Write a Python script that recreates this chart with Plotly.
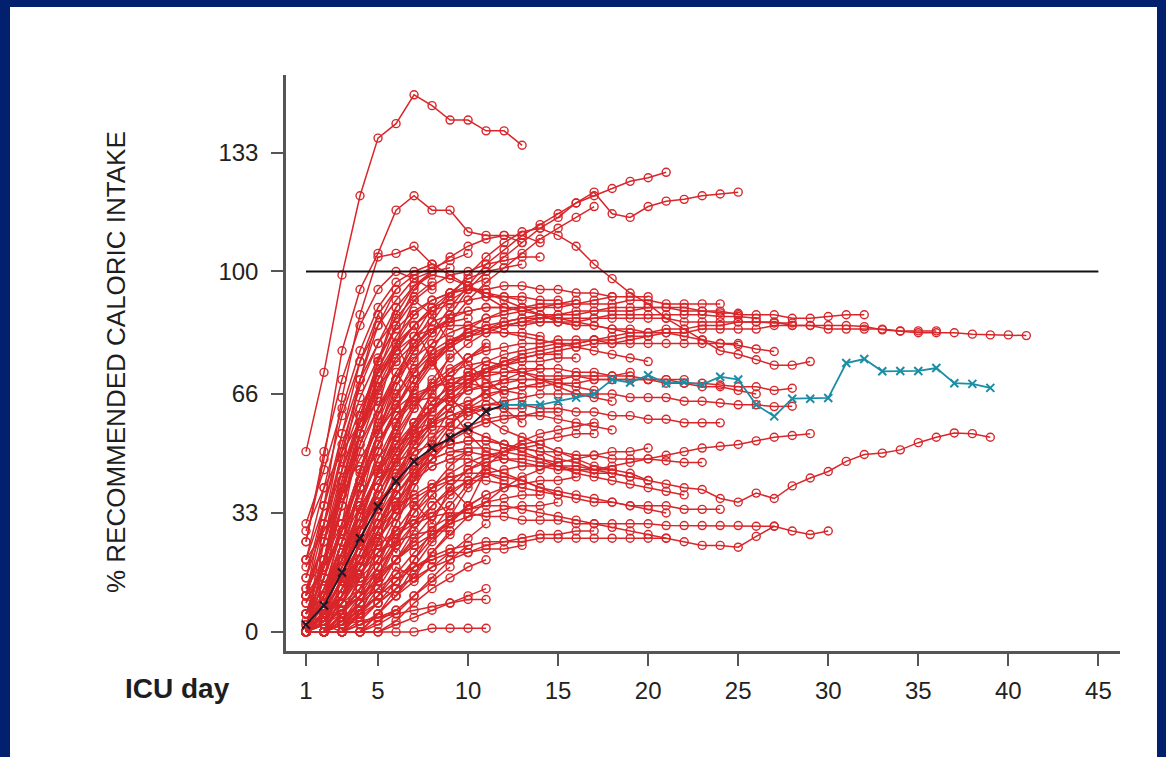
import plotly.graph_objects as go

# ---------------- data ----------------
x_ticks = [1, 5, 10, 15, 20, 25, 30, 35, 40, 45]
y_ticks = [0, 33, 66, 100, 133]
ref_x = [1, 45]
ref_y = [100, 100]

# mean curve (black part days 1-12, teal part days 12-39)
mean_early_days = list(range(1, 13))
mean_early = [2, 7.3, 16.5, 26, 34.8, 41.8, 47.3, 51, 53.8, 56.6, 61.2, 63]
mean_late_days = list(range(12, 40))
mean_late = [63, 63, 63, 64, 65, 66, 70, 69.2, 71.2, 69, 69.3, 68.6, 70.8, 70,
             63, 59.8, 64.7, 64.7, 64.9, 74.6, 75.7, 72.3, 72.4, 72.4, 73.2,
             69, 68.8, 67.7]

# individual patients, value on ICU day 1, 2, 3, ...
p01 = [50, 72, 99, 121, 137, 141, 149, 146, 142, 142, 139, 139, 135]
p02 = [25, 48, 78, 95, 105, 117, 121, 117, 117, 111, 110, 110, 108]
p03 = [0, 3, 12, 25, 40, 55, 68, 78, 86, 92, 97, 101, 105, 109, 112, 115, 118]
p04 = [10, 35, 65, 88, 104, 105, 107, 102, 99, 96, 93, 90]
p05 = [0, 10, 25, 40, 55, 65, 75, 83, 90, 96, 102, 106, 110, 113, 116, 119, 121, 123, 125, 126, 127.5]
p06 = [0, 5, 18, 35, 50, 62, 72, 80, 88, 95, 100, 104, 108, 112, 115, 119, 122, 116, 115, 118, 119.5, 120, 121, 121.5, 122]
p07 = [0, 8, 22, 40, 55, 68, 78, 86, 93, 99, 104, 108, 111, 112, 110, 107, 102, 98, 94, 91, 87, 84, 81, 78, 77, 75.5, 74, 74, 75]
p08 = [0, 5, 15, 28, 40, 50, 58, 64, 68, 72, 75, 77, 78, 79, 80, 80, 81, 81, 82, 82, 83, 83, 84, 84, 84, 84, 85, 85, 85, 85, 85, 84.7, 83.8, 83.4, 83, 83, 83, 82.6, 82.4, 82.4, 82.2]
p09 = [0, 10, 25, 40, 52, 62, 70, 76, 80, 83, 85, 86, 87, 87, 88, 88, 89, 89, 89, 90, 90, 90, 89, 89, 88, 88, 88, 87, 87, 87.5, 88, 88]
p10 = [0, 0, 5, 15, 28, 40, 50, 58, 64, 69, 72, 75, 77, 78, 79, 80, 81, 82, 83, 83, 84, 84, 85, 85, 86, 86, 86, 85, 85, 84, 84, 84, 84, 83.5, 83.5, 83.5]
p11 = [0, 10, 25, 40, 52, 60, 64, 65, 64, 62, 59, 56, 54, 52, 50, 48, 46, 45, 44, 42, 41, 40, 39.5, 37, 36, 38.5, 37, 40.5, 42.7, 44.5, 47.3, 49.2, 49.6, 50.5, 52.5, 54, 55.2, 55, 54]
p12 = [0, 0, 3, 8, 14, 20, 25, 29, 32, 34, 35, 35, 34, 33, 32, 31, 30, 29, 28, 27, 26, 25, 24, 24, 23.5, 26.5, 29.3, 28, 27, 28]
p13 = [0, 5, 10, 16, 22, 27, 30, 32, 33, 33, 32, 32, 31, 31, 31, 30, 30, 30, 30, 30, 29.5, 29.5, 29.5, 29.5, 29.5, 29.3, 29.3]
p14 = [0, 3, 10, 20, 30, 38, 44, 48, 50, 50, 49, 48, 47, 46, 45, 45, 45, 46, 47, 48, 49, 50, 51, 51.5, 52, 53, 54, 54.5, 55]
p15 = [0, 8, 18, 28, 36, 42, 47, 50, 52, 53, 53, 52, 51, 50, 50, 49, 49, 48, 48, 48, 47.5, 47, 47]
p16 = [0, 5, 15, 28, 40, 50, 57, 62, 66, 69, 71, 72, 73, 73, 73, 72, 72, 71, 71, 70, 70, 69, 69, 68.5, 68, 68, 67, 67.6]
p17 = [0, 0, 8, 18, 30, 40, 48, 54, 58, 61, 63, 64, 65, 66, 66, 66, 66, 66, 65, 65, 65, 64, 64, 63.5, 63, 63, 62.5, 62.6]
p18 = [0, 10, 25, 40, 52, 62, 70, 75, 79, 82, 84, 85, 86, 86, 86, 85, 85, 84, 84, 83, 83, 82, 81, 80, 79.5, 78.5, 77.8]
p19 = [5, 20, 40, 55, 67, 76, 82, 86, 88, 89, 90, 90, 90, 90, 91, 91, 91, 91, 92, 92, 91, 91, 91, 91]
p20 = [0, 5, 15, 30, 45, 57, 67, 74, 79, 82, 84, 86, 87, 88, 88, 89, 89, 90, 90, 90, 90, 89, 89, 88.5, 88.4]
p21 = [0, 0, 10, 25, 40, 52, 62, 70, 76, 80, 83, 85, 86, 87, 87, 87, 87, 88, 88, 88, 88, 88, 88, 87.5, 87.5, 87]
p22 = [0, 15, 30, 45, 57, 66, 73, 78, 81, 83, 84, 85, 85, 86, 86, 86, 87, 87, 87, 87, 87, 86, 86, 86, 86, 86, 85.7, 85.7]
p23 = [10, 30, 50, 65, 76, 84, 89, 92, 94, 95, 95, 96, 96, 95, 95, 94, 94, 93, 93, 93]
p24 = [0, 5, 15, 30, 44, 55, 63, 69, 73, 76, 78, 79, 80, 80, 81, 81, 81, 80, 80, 80, 80, 80, 80, 80, 80]
p25 = [0, 10, 22, 34, 44, 51, 55, 57, 57, 56, 54, 52, 50, 48, 46, 44, 43, 42, 41, 40, 39, 38]
p26 = [0, 3, 10, 22, 34, 44, 52, 57, 60, 62, 63, 63, 63, 62, 62, 61, 61, 60, 60, 59, 59, 58, 58, 58]
p27 = [0, 8, 20, 35, 48, 58, 64, 68, 70, 71, 72, 72, 72, 71, 71, 71, 70, 70, 70, 70, 70, 70]
p28 = [0, 5, 14, 25, 36, 46, 53, 58, 62, 64, 66, 67, 68, 68, 69, 69, 70, 70, 70, 70, 69, 69, 68, 68, 67, 66]
p29 = [0, 0, 2, 6, 10, 14, 18, 21, 23, 24, 25, 25, 25, 26, 26, 26, 26, 26, 26, 26, 26]
p30 = [0, 4, 10, 18, 26, 32, 37, 40, 42, 42, 42, 41, 40, 39, 38, 37, 36, 36, 35, 35, 35, 34, 34, 34]
p31 = [0, 5, 15, 28, 40, 50, 58, 64, 68, 71, 73, 74, 75, 75, 76, 76]
p32 = [0, 0, 5, 15, 25, 35, 45, 52, 58, 62, 65, 67, 68, 69]
p33 = [10, 25, 40, 52, 62, 70, 76, 80, 83, 85, 87, 88, 89, 90, 90, 91, 92, 93]
p34 = [0, 0, 0, 5, 12, 20, 28, 35, 40, 45, 48, 50, 52, 53, 54, 55, 55]
p35 = [0, 2, 5, 10, 15, 20, 24, 27, 30, 32, 33, 34, 35, 35, 36]
p36 = [0, 0, 3, 6, 10, 14, 18, 20, 22, 22, 23, 23, 24]
p37 = [5, 20, 40, 60, 75, 85, 92, 96, 99, 100, 102, 103, 104, 104]
p38 = [0, 0, 0, 0, 5, 10, 16, 22, 27, 32, 36, 40, 43, 45, 47, 48, 49, 50, 50, 51]
p39 = [0, 10, 22, 34, 44, 52, 58, 62, 65, 67, 68, 69, 70, 70, 70, 71, 71, 71, 72]
p40 = [0, 3, 10, 20, 30, 38, 45, 50, 54, 57, 59, 60, 60, 61, 61]
p41 = [20, 35, 52, 68, 80, 90, 96, 99, 98, 96, 94, 92, 90, 88, 86, 85]
p42 = [0, 0, 8, 18, 28, 36, 42, 46, 48, 48, 46, 44, 42, 40, 38]
p43 = [0, 5, 12, 20, 28, 34, 38, 41, 43, 44, 44, 43, 42, 40, 39, 38, 37, 36, 35, 34, 33]
p44 = [0, 15, 35, 55, 72, 85, 95, 100, 104, 107, 109, 110, 110, 108]
p45 = [0, 0, 2, 5, 8, 12, 15, 18, 20, 22, 24, 25, 26, 27, 27, 28, 28]
p46 = [5, 10, 18, 28, 38, 48, 56, 62, 67, 70, 72, 74, 76, 77, 78, 79, 80, 80, 81, 82]
p47 = [0, 0, 5, 12, 22, 32, 42, 50, 57, 63, 67, 70, 72, 73]
p48 = [0, 8, 20, 32, 44, 54, 62, 68, 72, 74, 75, 74, 72, 70, 68, 66, 65, 64]
p49 = [0, 0, 0, 2, 5, 10, 18, 25, 30, 35, 38]
p50 = [0, 0, 0, 0, 0, 0, 0, 1, 1, 1, 1]
p51 = [0, 0, 2, 3, 4, 5, 6, 7, 8, 9, 9]
p52 = [5, 15, 30, 45, 60, 70, 78, 83, 87]
p53 = [0, 10, 25, 40, 52, 60, 65, 68]
p54 = [0, 5, 15, 28, 40, 50, 58]
p55 = [2, 8, 20, 35, 48, 55]
p56 = [0, 0, 5, 12, 20, 30, 40, 48, 55, 60]
p57 = [10, 25, 45, 60, 72, 80, 85, 90, 92, 95]
p58 = [0, 20, 40, 55, 70, 80, 88]
p59 = [15, 35, 55, 70, 80, 87, 93, 97]
p60 = [0, 0, 10, 22, 35, 48, 58, 66, 72, 76, 79]
p61 = [0, 3, 8, 15, 25, 35, 43, 50]
p62 = [0, 0, 0, 5, 15, 25, 35]
p63 = [5, 12, 22, 30, 36, 40]
p64 = [0, 15, 30, 42, 50]
p65 = [20, 40, 60, 75, 85, 92, 98, 100, 101]
p66 = [0, 5, 12, 18, 22, 25, 27, 28, 28]
p67 = [0, 0, 3, 8, 12, 16, 18, 20]
p68 = [30, 45, 62, 78, 90, 97, 100, 102]
p69 = [0, 25, 50, 70, 85, 95]
p70 = [0, 10, 20, 32, 45, 58, 68, 75, 80, 83]
p71 = [12, 20, 30, 42, 55, 63, 70]
p72 = [0, 2, 6, 10, 14, 20, 26, 32, 38, 42]
p73 = [8, 18, 28, 38, 46, 52, 56, 58]
p74 = [0, 30, 55, 75, 88, 95, 99, 101, 103, 105]
p75 = [0, 0, 0, 0, 2, 5, 10, 15, 20, 24]
p76 = [3, 6, 10, 15, 20]
p77 = [0, 12, 25, 35, 42, 47, 50, 52, 53]
p78 = [18, 30, 45, 58, 68, 75]
p79 = [0, 0, 5, 15, 28, 40, 52, 62, 70, 76, 80]
p80 = [25, 50, 70, 85, 95, 100, 98, 95]
p81 = [0, 5, 10, 18, 28, 36, 42, 46, 48, 50]
p82 = [0, 0, 2, 4, 8, 12, 15]
p83 = [10, 18, 35, 52, 66, 75, 80, 84, 86, 87]
p84 = [0, 0, 0, 8, 18, 30, 42, 53, 62, 68, 73]
p85 = [28, 40, 50, 58, 64]
p86 = [0, 8, 18, 30, 40]
p87 = [5, 20, 38, 55, 68, 78, 85, 90, 94, 96, 98]
p88 = [0, 0, 0, 0, 0, 3, 8, 12, 15, 18, 20]
p89 = [0, 5, 15, 30, 45, 58, 68, 75, 80, 84, 87, 89, 90, 91, 91, 92]
p90 = [0, 0, 5, 12, 20, 28, 35, 40, 44, 47, 49, 50, 51, 52]
p91 = [8, 20, 35, 50, 62, 72, 79, 84, 87, 89, 90, 90, 89, 88, 87, 86, 85, 84, 83]
p92 = [0, 10, 20, 30, 40, 48, 54, 58, 60, 61, 62, 62, 62]
p93 = [0, 0, 0, 3, 8, 14, 20, 26, 31, 35, 38, 40, 41, 42, 42, 43]
p94 = [15, 30, 48, 62, 72, 78, 82, 84, 85, 85, 84, 83, 82, 81, 80, 79, 78, 77, 76, 75]
p95 = [0, 3, 8, 16, 25, 34, 42, 48, 53, 56, 58, 59, 60, 60, 59, 58, 57, 56]
p96 = [0, 20, 42, 60, 73, 82, 88, 92, 94, 95, 94, 93, 92]
p97 = [0, 0, 10, 20, 30, 38, 44, 48, 50, 51, 51, 50, 49, 48, 47]
p98 = [5, 15, 28, 42, 55, 65, 72, 77, 80, 82, 83, 83, 83, 82]
p99 = [0, 0, 0, 0, 5, 12, 20, 28, 35, 41, 46, 50, 53, 55, 56, 57, 58]
p100 = [0, 5, 12, 22, 32, 40, 46, 50, 52, 53, 53, 52, 51, 50, 48, 47, 45, 44, 43, 42]
p101 = [10, 25, 42, 58, 70, 79, 85, 89, 91, 92, 93, 93, 93, 92, 92]
p102 = [0, 0, 3, 10, 18, 26, 33, 38, 42, 45, 47, 48, 48, 47, 46, 45, 44, 44, 43]
p103 = [0, 8, 18, 28, 38, 47, 55, 61, 66, 70, 73, 75, 76, 77, 77]
p104 = [20, 28, 38, 48, 56, 62, 66, 68, 69, 69, 68, 67, 66]
p105 = [0, 0, 0, 5, 10, 16, 22, 27, 31, 34, 36, 37, 38, 38]
p106 = [0, 12, 28, 44, 58, 70, 80, 88, 94, 98, 100, 101, 102]
p107 = [0, 2, 6, 12, 18, 24, 30, 35, 39, 42, 44, 45, 46, 46, 46, 46, 45, 45]
p108 = [0, 0, 8, 20, 32, 43, 52, 59, 64, 67, 69, 70, 70, 70, 69, 68, 67]
p109 = [0, 0, 0, 0, 3, 6]
p110 = [0, 8, 16, 24, 30, 35, 38]
p111 = [0, 3, 6, 10, 14]
p112 = [12, 25, 40, 55, 65]
p113 = [0, 0, 15, 35, 55, 70, 82, 90]
p114 = [0, 10, 30, 55, 75, 90]
p115 = [0, 0, 0, 10, 25, 40, 55, 67, 77]
p116 = [2, 5, 8, 12, 16, 20, 24]
p117 = [0, 18, 38, 58, 75, 88, 96, 100]
p118 = [0, 0, 2, 8, 16, 25, 33, 40, 46, 50]
p119 = [0, 6, 14, 24, 34, 43, 50, 56]
p120 = [5, 10, 15, 20, 24, 28, 31, 33, 35]
p121 = [0, 0, 0, 0, 0, 2, 4, 6, 8, 10, 12]
p122 = [0, 0, 0, 2, 4, 6, 10, 14, 18]
p123 = [0, 0, 4, 8, 12, 10, 14, 18, 22, 26, 30]
p124 = [0, 2, 0, 5, 10, 18, 15, 22, 28]
p125 = [0, 10, 25, 45, 60, 72, 65, 58, 62, 55, 50, 48]
p126 = [0, 15, 35, 55, 70, 78, 85, 75, 68, 72, 66, 62, 58]
p127 = [0, 5, 20, 40, 62, 80, 92, 88, 80, 74, 70, 66]
p128 = [0, 0, 0, 6, 14, 24, 36, 30, 40, 35, 45]
p129 = [0, 5, 8, 20, 28, 22, 30, 38, 32, 40, 44, 42]
p130 = [0, 20, 45, 70, 88, 80, 70, 75, 65, 60, 62]

patients = [p01, p02, p03, p04, p05, p06, p07, p08, p09, p10, p11, p12, p13, p14,
            p15, p16, p17, p18, p19, p20, p21, p22, p23, p24, p25, p26, p27, p28,
            p29, p30, p31, p32, p33, p34, p35, p36, p37, p38, p39, p40, p41, p42,
            p43, p44, p45, p46, p47, p48, p49, p50, p51, p52, p53, p54, p55, p56,
            p57, p58, p59, p60, p61, p62, p63, p64, p65, p66, p67, p68, p69, p70,
            p71, p72, p73, p74, p75, p76, p77, p78, p79, p80, p81, p82, p83, p84,
            p85, p86, p87, p88, p89, p90, p91, p92, p93, p94, p95, p96, p97, p98,
            p99, p100, p101, p102, p103, p104, p105, p106, p107, p108, p109, p110,
            p111, p112, p113, p114, p115, p116, p117, p118, p119, p120, p121, p122,
            p123, p124, p125, p126, p127, p128, p129, p130]

# ---------------- style ----------------
RED = "#d8262a"
TEAL = "#1b8ea6"
NAVY = "#02206e"
AXIS = "#555555"
FONT = "Liberation Sans, Arial, sans-serif"

W, H = 1166, 757
L, R, T, B = 286, 46, 75, 106
pw, ph = W - L - R, H - T - B

fig = go.Figure()

for vals in patients:
    fig.add_trace(go.Scatter(
        x=list(range(1, len(vals) + 1)), y=vals, mode="lines+markers",
        line=dict(color=RED, width=1.5),
        marker=dict(symbol="circle-open", size=8, color=RED, line=dict(width=1.4)),
        hoverinfo="skip", showlegend=False))

fig.add_trace(go.Scatter(x=ref_x, y=ref_y, mode="lines",
                         line=dict(color="#111111", width=2),
                         hoverinfo="skip", showlegend=False))

fig.add_trace(go.Scatter(x=mean_early_days, y=mean_early, mode="lines+markers",
                         line=dict(color="#1a1a2a", width=1.8),
                         marker=dict(symbol="x-thin-open", size=8, color="#1a1a2a",
                                     line=dict(width=2, color="#1a1a2a")),
                         hoverinfo="skip", showlegend=False))
fig.add_trace(go.Scatter(x=mean_late_days, y=mean_late, mode="lines+markers",
                         line=dict(color=TEAL, width=1.8),
                         marker=dict(symbol="x-thin-open", size=8, color=TEAL,
                                     line=dict(width=2, color=TEAL)),
                         hoverinfo="skip", showlegend=False))

# white panel inside the navy frame
fig.add_shape(type="rect", xref="paper", yref="paper", layer="below",
              x0=(10 - L) / pw, x1=(1157 - L) / pw,
              y0=(H - B - 760) / ph, y1=(H - B - 7) / ph,
              fillcolor="white", line=dict(width=0))

fig.add_annotation(text="% RECOMMENDED CALORIC INTAKE", textangle=-90,
                   xref="paper", yref="paper",
                   x=(116 - L) / pw, y=(H - B - 362) / ph,
                   xanchor="center", yanchor="middle", showarrow=False,
                   font=dict(family=FONT, size=26, color="#1e1e1e"))
fig.add_annotation(text="<b>ICU day</b>", xref="paper", yref="paper",
                   x=(177.5 - L) / pw, y=(H - B - 688) / ph,
                   xanchor="center", yanchor="middle", showarrow=False,
                   font=dict(family=FONT, size=28, color="#1e1e1e"))

fig.update_layout(
    width=W, height=H, margin=dict(l=L, r=R, t=T, b=B),
    paper_bgcolor=NAVY, plot_bgcolor="rgba(0,0,0,0)",
    font=dict(family=FONT, color="#222222"),
    xaxis=dict(range=[-0.11, 46.2], tickvals=x_ticks, ticks="outside",
               ticklen=12, tickwidth=1.5, tickcolor=AXIS, showline=True,
               linecolor=AXIS, linewidth=2.5, showgrid=False, zeroline=False,
               tickfont=dict(family=FONT, size=24, color="#222222"),
               ticklabelstandoff=4),
    yaxis=dict(range=[-5.3, 154.5], tickvals=y_ticks, ticks="outside",
               ticklen=12, tickwidth=1.5, tickcolor=AXIS, showline=True,
               linecolor=AXIS, linewidth=2.5, showgrid=False, zeroline=False,
               tickfont=dict(family=FONT, size=24, color="#222222"),
               ticklabelstandoff=8),
)

fig.write_html("out.html")
